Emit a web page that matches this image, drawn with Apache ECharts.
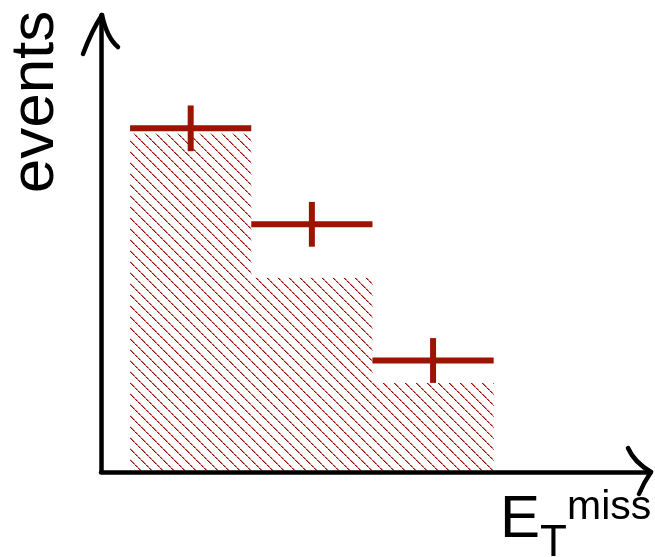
<!DOCTYPE html>
<html>
<head>
<meta charset="UTF-8">
<title>events vs ET miss</title>
<script src="https://cdn.jsdelivr.net/npm/echarts@6/dist/echarts.min.js"></script>
<style>
  html, body { margin: 0; padding: 0; background: #fff; }
  #chart { width: 655px; height: 557px; }
</style>
</head>
<body>
<div id="chart"></div>
<script>
// bins (arbitrary units along E_T^miss)
const binLo = [0, 1, 2];
const binHi = [1, 2, 3];
// hatched histogram (expectation)
const mcHeight = [74, 42.5, 19.5];
// data points with error bars
const dataValue = [75.2, 54.2, 24.4];
const dataError = [5, 4.9, 4.9];

const red = '#9c1300';

// diagonal hatch pattern, "\" lines
function makeHatch() {
  const n = 11;
  const c = document.createElement('canvas');
  c.width = n; c.height = n;
  const g = c.getContext('2d');
  for (let i = 0; i < n; i++) {
    g.fillStyle = (i % 3 === 2) ? 'rgba(180,45,35,0.7)' : 'rgba(155,16,6,1)';
    g.fillRect(i, i, 1, 1);
    g.fillStyle = (i % 3 === 2) ? 'rgba(200,80,70,0.3)' : 'rgba(175,40,30,0.6)';
    g.fillRect((i + 1) % n, i, 1, 1);
  }
  return c;
}
const hatch = { image: makeHatch(), repeat: 'repeat' };

const chart = echarts.init(document.getElementById('chart'));

chart.setOption({
  animation: false,
  grid: { left: 101, right: 5, top: 15, bottom: 85 },
  xAxis: {
    type: 'value', min: -0.24, max: 4.29, z: 5,
    axisLine: { show: true, onZero: false, lineStyle: { color: '#000', width: 4.5 } },
    axisTick: { show: false }, axisLabel: { show: false }, splitLine: { show: false }
  },
  yAxis: {
    type: 'value', min: 0, max: 100, z: 5,
    axisLine: { show: true, onZero: false, lineStyle: { color: '#000', width: 4.5 } },
    axisTick: { show: false }, axisLabel: { show: false }, splitLine: { show: false }
  },
  series: [
    {
      type: 'custom',
      data: binLo.map((lo, i) => [lo, binHi[i], mcHeight[i]]),
      renderItem: function (params, api) {
        const p0 = api.coord([api.value(0), 0]);
        const p1 = api.coord([api.value(1), api.value(2)]);
        return {
          type: 'rect',
          shape: { x: p0[0], y: p1[1], width: p1[0] - p0[0], height: p0[1] - p1[1] },
          style: { fill: hatch }
        };
      }
    },
    {
      type: 'custom',
      z: 3,
      data: binLo.map((lo, i) => [lo, binHi[i], dataValue[i], dataError[i]]),
      renderItem: function (params, api) {
        const lo = api.value(0), hi = api.value(1), v = api.value(2), e = api.value(3);
        const mid = (lo + hi) / 2;
        const a = api.coord([lo, v]), b = api.coord([hi, v]);
        const t = api.coord([mid, v + e]), u = api.coord([mid, v - e]);
        const st = { stroke: red, lineWidth: 6, lineCap: 'butt' };
        return {
          type: 'group',
          children: [
            { type: 'line', shape: { x1: a[0], y1: a[1], x2: b[0], y2: b[1] }, style: st },
            { type: 'line', shape: { x1: t[0], y1: t[1], x2: u[0], y2: u[1] }, style: st }
          ]
        };
      }
    }
  ],
  graphic: [
    // hand-drawn arrow heads
    { type: 'bezierCurve', z: 10, shape: { x1: 83, y1: 54, cpx1: 92, cpy1: 30, x2: 102, y2: 15 },
      style: { stroke: '#000', lineWidth: 4.5, lineCap: 'round', fill: null } },
    { type: 'bezierCurve', z: 10, shape: { x1: 102, y1: 15, cpx1: 107, cpy1: 38, x2: 118, y2: 47 },
      style: { stroke: '#000', lineWidth: 4.5, lineCap: 'round', fill: null } },
    { type: 'bezierCurve', z: 10, shape: { x1: 628, y1: 448, cpx1: 634, cpy1: 462, x2: 651, y2: 472 },
      style: { stroke: '#000', lineWidth: 4.5, lineCap: 'round', fill: null } },
    { type: 'bezierCurve', z: 10, shape: { x1: 651, y1: 472, cpx1: 644, cpy1: 482, x2: 639, y2: 494 },
      style: { stroke: '#000', lineWidth: 4.5, lineCap: 'round', fill: null } },
    // axis titles
    { type: 'text', x: 36, y: 102, rotation: Math.PI / 2,
      style: { text: 'events', x: 0, y: 0, fill: '#000', font: '62px "Liberation Sans", Arial, sans-serif',
               align: 'center', verticalAlign: 'middle', textAlign: 'center', textVerticalAlign: 'middle' } },
    { type: 'text', x: 500, y: 520,
      style: { text: 'E', fill: '#000', font: '60px "Liberation Sans", Arial, sans-serif',
               align: 'left', verticalAlign: 'middle', textAlign: 'left', textVerticalAlign: 'middle' } },
    { type: 'text', x: 540, y: 544,
      style: { text: 'T', fill: '#000', font: '44px "Liberation Sans", Arial, sans-serif',
               align: 'left', verticalAlign: 'middle', textAlign: 'left', textVerticalAlign: 'middle' } },
    { type: 'text', x: 567, y: 508,
      style: { text: 'miss', fill: '#000', font: '41px "Liberation Sans", Arial, sans-serif',
               align: 'left', verticalAlign: 'middle', textAlign: 'left', textVerticalAlign: 'middle' } }
  ]
});
</script>
</body>
</html>
